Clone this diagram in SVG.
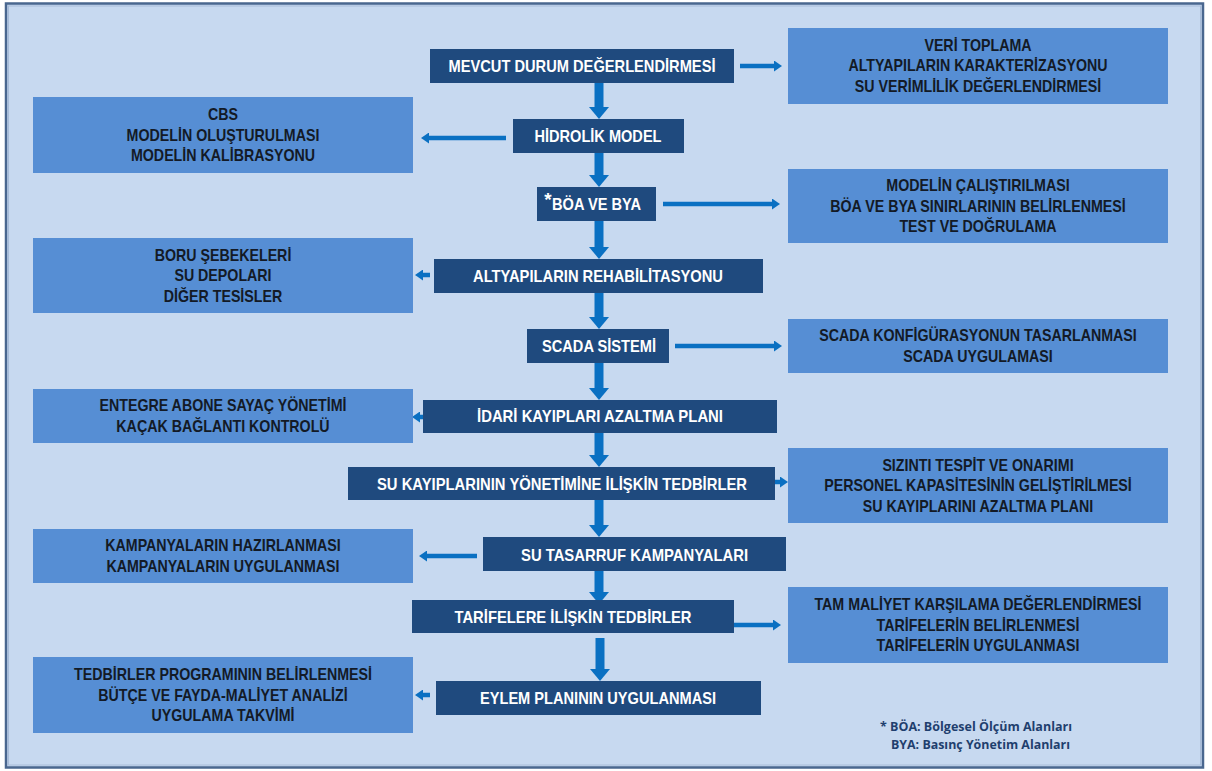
<svg xmlns="http://www.w3.org/2000/svg" width="1212" height="771" viewBox="0 0 1212 771">
<style>
.main rect{fill:#1f4a7e;}
.main text{fill:#ffffff;font-family:"Liberation Sans",Arial,sans-serif;font-weight:bold;font-size:16.5px;text-anchor:middle;}
.side rect{fill:#568ed4;}
.side text{fill:#131a26;font-family:"Liberation Sans",Arial,sans-serif;font-weight:bold;font-size:16px;text-anchor:middle;}
.v{stroke:#0a70c2;stroke-width:9;fill:none;}
.h{stroke:#0a70c2;stroke-width:4.5;fill:none;}
.note{fill:#1f3f6e;font-family:"Open Sans","Noto Sans",sans-serif;font-weight:bold;font-size:12px;}
</style>
<defs>
<marker id="vh" viewBox="0 0 12 20" refX="0" refY="10" markerWidth="12" markerHeight="20" markerUnits="userSpaceOnUse" orient="auto">
<path d="M0,0 L12,10 L0,20 Z" fill="#0a70c2"/>
</marker>
<marker id="hh" viewBox="0 0 8 11" refX="0" refY="5.5" markerWidth="8" markerHeight="11" markerUnits="userSpaceOnUse" orient="auto">
<path d="M0,0 L8,5.5 L0,11 Z" fill="#0a70c2"/>
</marker>
</defs>
<rect x="0" y="0" width="1212" height="771" fill="#ffffff"/>
<rect id="frame" x="6" y="3.5" width="1197" height="764" fill="#c7d9f0" stroke="#4a678f" stroke-width="2.5"/>
<rect x="8.5" y="6" width="1192" height="759" fill="none" stroke="#a8bcd8" stroke-width="1"/>

<g id="connectors">
<line class="v" x1="599" y1="83" x2="599" y2="107" marker-end="url(#vh)"/>
<line class="v" x1="599" y1="153" x2="599" y2="175" marker-end="url(#vh)"/>
<line class="v" x1="599" y1="221" x2="599" y2="247" marker-end="url(#vh)"/>
<line class="v" x1="599" y1="293" x2="599" y2="317" marker-end="url(#vh)"/>
<line class="v" x1="599" y1="363" x2="599" y2="388" marker-end="url(#vh)"/>
<line class="v" x1="599" y1="433" x2="599" y2="455" marker-end="url(#vh)"/>
<line class="v" x1="599" y1="500" x2="599" y2="525" marker-end="url(#vh)"/>
<line class="v" x1="599" y1="571" x2="599" y2="592" marker-end="url(#vh)"/>
<line class="v" x1="600" y1="638" x2="600" y2="669" marker-end="url(#vh)"/>
<line class="h" x1="740" y1="66" x2="774" y2="66" marker-end="url(#hh)"/>
<line class="h" x1="506" y1="138" x2="429" y2="138" marker-end="url(#hh)"/>
<line class="h" x1="663" y1="204" x2="772" y2="204" marker-end="url(#hh)"/>
<line class="h" x1="430" y1="275" x2="423" y2="275" marker-end="url(#hh)"/>
<line class="h" x1="675" y1="346" x2="774" y2="346" marker-end="url(#hh)"/>
<line class="h" x1="423" y1="417" x2="420" y2="417" marker-end="url(#hh)"/>
<line class="h" x1="775" y1="482" x2="780" y2="482" marker-end="url(#hh)"/>
<line class="h" x1="477" y1="556" x2="427" y2="556" marker-end="url(#hh)"/>
<line class="h" x1="728" y1="625" x2="773" y2="625" marker-end="url(#hh)"/>
<line class="h" x1="430" y1="695" x2="423" y2="695" marker-end="url(#hh)"/>
</g>

<g id="n1" class="main"><rect x="430" y="49" width="304" height="34"/><text x="582" y="72" textLength="267" lengthAdjust="spacingAndGlyphs">MEVCUT DURUM DEĞERLENDİRMESİ</text></g>
<g id="n2" class="main"><rect x="513" y="119" width="171" height="34"/><text x="598" y="142" textLength="127" lengthAdjust="spacingAndGlyphs">HİDROLİK MODEL</text></g>
<g id="n3" class="main"><rect x="537" y="187" width="119" height="34"/><text x="548" y="206" style="font-size:19px">*</text><text x="596.5" y="210" textLength="89" lengthAdjust="spacingAndGlyphs">BÖA VE BYA</text></g>
<g id="n4" class="main"><rect x="434" y="259" width="329" height="34"/><text x="598" y="282" textLength="250" lengthAdjust="spacingAndGlyphs">ALTYAPILARIN REHABİLİTASYONU</text></g>
<g id="n5" class="main"><rect x="527" y="329" width="142" height="34"/><text x="599" y="352" textLength="114" lengthAdjust="spacingAndGlyphs">SCADA SİSTEMİ</text></g>
<g id="n6" class="main"><rect x="423" y="400" width="354" height="33"/><text x="600" y="422" textLength="246" lengthAdjust="spacingAndGlyphs">İDARİ KAYIPLARI AZALTMA PLANI</text></g>
<g id="n7" class="main"><rect x="348" y="467" width="427" height="33"/><text x="562" y="490" textLength="370" lengthAdjust="spacingAndGlyphs">SU KAYIPLARININ YÖNETİMİNE İLİŞKİN TEDBİRLER</text></g>
<g id="n8" class="main"><rect x="483" y="537" width="303" height="34"/><text x="634.5" y="561" textLength="227" lengthAdjust="spacingAndGlyphs">SU TASARRUF KAMPANYALARI</text></g>
<g id="n9" class="main"><rect x="412" y="600" width="322" height="33"/><text x="573" y="623" textLength="237" lengthAdjust="spacingAndGlyphs">TARİFELERE İLİŞKİN TEDBİRLER</text></g>
<g id="n10" class="main"><rect x="436" y="681" width="325" height="34"/><text x="598" y="704" textLength="236" lengthAdjust="spacingAndGlyphs">EYLEM PLANININ UYGULANMASI</text></g>

<g id="r1" class="side"><rect x="788" y="28" width="380" height="76"/><g transform="matrix(0.89,0,0,1,107.58,0)"><text x="978" y="51">VERİ TOPLAMA</text><text x="978" y="71.5">ALTYAPILARIN KARAKTERİZASYONU</text><text x="978" y="92">SU VERİMLİLİK DEĞERLENDİRMESİ</text></g></g>
<g id="l1" class="side"><rect x="33" y="97" width="380" height="76"/><g transform="matrix(0.89,0,0,1,24.53,0)"><text x="223" y="120.5">CBS</text><text x="223" y="141">MODELİN OLUŞTURULMASI</text><text x="223" y="161.5">MODELİN KALİBRASYONU</text></g></g>
<g id="r2" class="side"><rect x="788" y="169" width="380" height="74"/><g transform="matrix(0.89,0,0,1,107.58,0)"><text x="978" y="191.5">MODELİN ÇALIŞTIRILMASI</text><text x="978" y="212">BÖA VE BYA SINIRLARININ  BELİRLENMESİ</text><text x="978" y="232.5">TEST VE DOĞRULAMA</text></g></g>
<g id="l2" class="side"><rect x="33" y="238" width="380" height="75"/><g transform="matrix(0.89,0,0,1,24.53,0)"><text x="223" y="261">BORU ŞEBEKELERİ</text><text x="223" y="281.5">SU DEPOLARI</text><text x="223" y="302">DİĞER TESİSLER</text></g></g>
<g id="r3" class="side"><rect x="788" y="319" width="380" height="54"/><g transform="matrix(0.89,0,0,1,107.58,0)"><text x="978" y="341.5">SCADA KONFİGÜRASYONUN TASARLANMASI</text><text x="978" y="362">SCADA UYGULAMASI</text></g></g>
<g id="l3" class="side"><rect x="33" y="389" width="380" height="54"/><g transform="matrix(0.89,0,0,1,24.53,0)"><text x="223" y="411.5">ENTEGRE ABONE SAYAÇ YÖNETİMİ</text><text x="223" y="432">KAÇAK BAĞLANTI KONTROLÜ</text></g></g>
<g id="r4" class="side"><rect x="788" y="448" width="380" height="75"/><g transform="matrix(0.89,0,0,1,107.58,0)"><text x="978" y="471">SIZINTI TESPİT VE ONARIMI</text><text x="978" y="491.5">PERSONEL KAPASİTESİNİN GELİŞTİRİLMESİ</text><text x="978" y="512">SU KAYIPLARINI AZALTMA PLANI</text></g></g>
<g id="l4" class="side"><rect x="33" y="529" width="380" height="54"/><g transform="matrix(0.89,0,0,1,24.53,0)"><text x="223" y="551.5">KAMPANYALARIN HAZIRLANMASI</text><text x="223" y="572">KAMPANYALARIN UYGULANMASI</text></g></g>
<g id="r5" class="side"><rect x="788" y="587" width="380" height="76"/><g transform="matrix(0.89,0,0,1,107.58,0)"><text x="978" y="610.5">TAM MALİYET KARŞILAMA DEĞERLENDİRMESİ</text><text x="978" y="631">TARİFELERİN BELİRLENMESİ</text><text x="978" y="651.5">TARİFELERİN UYGULANMASI</text></g></g>
<g id="l5" class="side"><rect x="33" y="657" width="380" height="76"/><g transform="matrix(0.89,0,0,1,24.53,0)"><text x="223" y="680.5">TEDBİRLER PROGRAMININ BELİRLENMESİ</text><text x="223" y="701">BÜTÇE VE FAYDA-MALİYET ANALİZİ</text><text x="223" y="721.5">UYGULAMA TAKVİMİ</text></g></g>

<g id="footnote">
<text class="note" x="880" y="731" textLength="192" lengthAdjust="spacingAndGlyphs">* BÖA: Bölgesel Ölçüm Alanları</text>
<text class="note" x="891" y="749" textLength="179" lengthAdjust="spacingAndGlyphs">BYA: Basınç Yönetim Alanları</text>
</g>
</svg>
